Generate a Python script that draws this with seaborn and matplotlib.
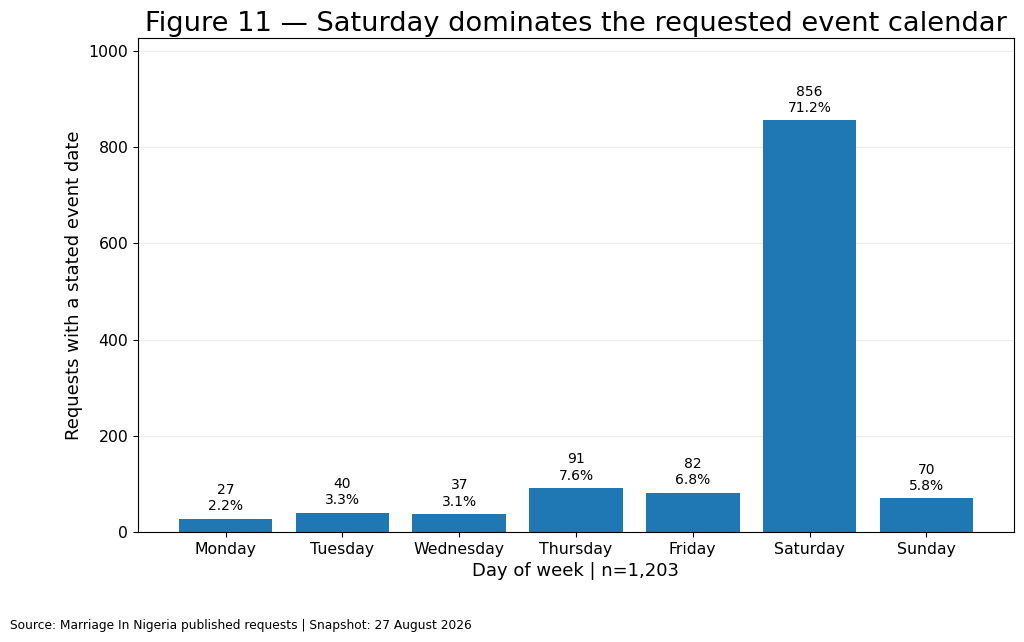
import matplotlib
matplotlib.use("Agg")
import matplotlib.pyplot as plt
import seaborn as sns
import pandas as pd

days = ["Monday", "Tuesday", "Wednesday", "Thursday", "Friday", "Saturday", "Sunday"]
counts = [27, 40, 37, 91, 82, 856, 70]
pcts = ["2.2%", "3.3%", "3.1%", "7.6%", "6.8%", "71.2%", "5.8%"]

df = pd.DataFrame({"day": days, "count": counts})

fig = plt.figure(figsize=(10.24, 6.42), dpi=100)
ax = fig.add_axes([138/1024, 1 - 532/642, (1014-138)/1024, (532-38)/642])
sns.barplot(data=df, x="day", y="count", color="#1f77b4", saturation=1, width=0.8, ax=ax)
ax.set_xlim(-0.75, len(days) - 0.25)
ax.set_ylim(0, max(counts) * 1.2)
ax.grid(axis="y", color="#ececec", linewidth=0.8)
ax.set_axisbelow(True)
for p, c, pc in zip(ax.patches, counts, pcts):
    ax.annotate(f"{c}\n{pc}", (p.get_x() + p.get_width()/2, p.get_height()),
                xytext=(0, 4), textcoords="offset points", ha="center", va="bottom",
                fontsize=10, linespacing=1.2)
ax.set_xlabel("Day of week | n=1,203", fontsize=13)
ax.set_ylabel("Requests with a stated event date", fontsize=13)
ax.tick_params(labelsize=11.3)
ax.set_title("Figure 11 — Saturday dominates the requested event calendar", fontsize=19.6, pad=5)
fig.text(10/1024, 1 - 626/642, "Source: Marriage In Nigeria published requests | Snapshot: 27 August 2026",
         fontsize=8.8, va="center", ha="left")
fig.savefig("out.png", dpi=100)
